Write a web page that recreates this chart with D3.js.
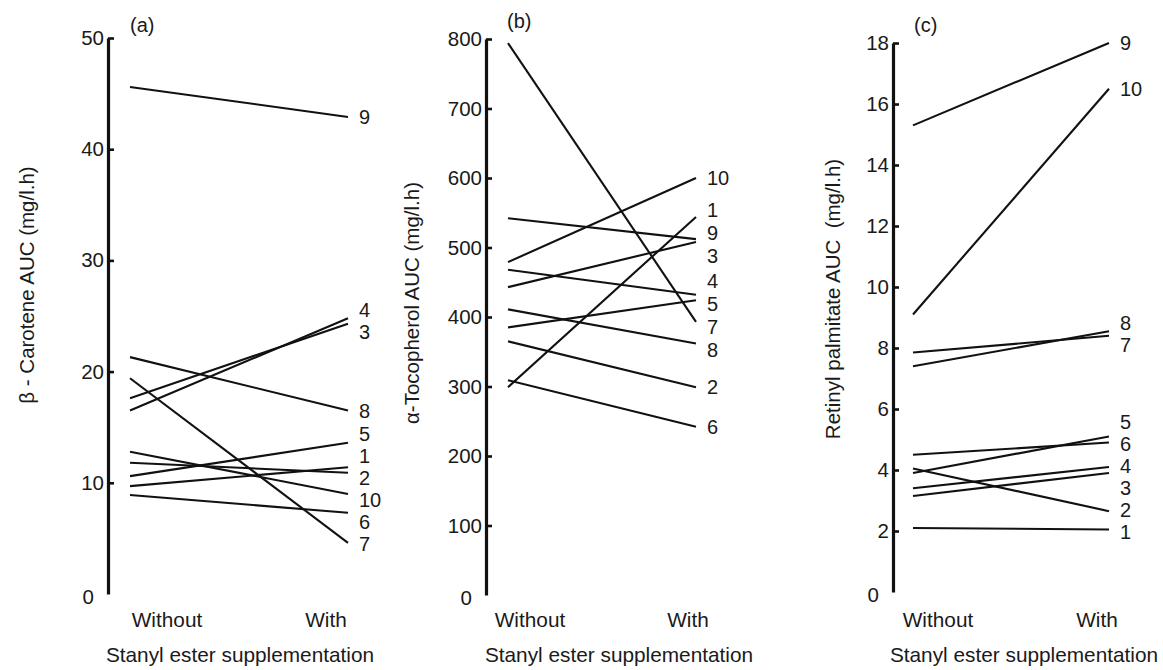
<!DOCTYPE html>
<html>
<head>
<meta charset="utf-8">
<script src="https://cdn.jsdelivr.net/npm/d3@7"></script>
<style>
body { margin: 0; background: #fff; }
text { font-family: "Liberation Sans", Arial, Helvetica, sans-serif; fill: #1a1a1a; }
</style>
</head>
<body>
<svg id="chart" width="1163" height="670"></svg>
<script>
// subjects 1..10, values
var subjects = ["1", "2", "3", "4", "5", "6", "7", "8", "9", "10"];
var conditions = ["Without", "With"];

var caroteneWithout = [9.7, 11.8, 17.6, 16.5, 10.6, 8.9, 19.4, 21.3, 45.6, 12.8];
var caroteneWith    = [11.4, 10.9, 24.3, 24.8, 13.6, 7.3, 4.6, 16.5, 42.9, 9.0];

var tocoWithout = [299, 365, 443, 468, 385, 309, 794, 411, 542, 479];
var tocoWith    = [544, 299, 508, 432, 424, 242, 393, 362, 512, 600];

var retinylWithout = [2.1, 4.05, 3.15, 3.4, 3.9, 4.5, 7.85, 7.4, 15.3, 9.1];
var retinylWith    = [2.05, 2.65, 3.9, 4.1, 5.1, 4.9, 8.4, 8.55, 18.0, 16.5];

var caroteneTicks = [0, 10, 20, 30, 40, 50];
var tocoTicks = [0, 100, 200, 300, 400, 500, 600, 700, 800];
var retinylTicks = [0, 2, 4, 6, 8, 10, 12, 14, 16, 18];

var xTitle = "Stanyl ester supplementation";

var panels = [
	{ tag: "(a)", before: caroteneWithout, after: caroteneWith, ticks: caroteneTicks,
	  title: "β - Carotene AUC (mg/l.h)",
	  axisX: 108, x0: 130, x1: 348, yTop: 38, yBottom: 594,
	  titleX: 34, titleY: 285, tagX: 130, tagY: 32,
	  catX: [167, 326], xTitleX: 240, labelGap: 22 },
	{ tag: "(b)", before: tocoWithout, after: tocoWith, ticks: tocoTicks,
	  title: "α-Tocopherol AUC (mg/l.h)",
	  axisX: 486, x0: 508, x1: 696, yTop: 39, yBottom: 595,
	  titleX: 419, titleY: 303, tagX: 507, tagY: 28,
	  catX: [530, 688], xTitleX: 619, labelGap: 23 },
	{ tag: "(c)", before: retinylWithout, after: retinylWith, ticks: retinylTicks,
	  title: "Retinyl palmitate AUC\u00a0\u00a0(mg/l.h)",
	  axisX: 893, x0: 913, x1: 1109, yTop: 43, yBottom: 592,
	  titleX: 840, titleY: 299, tagX: 914, tagY: 32,
	  catX: [938, 1097], xTitleX: 1024, labelGap: 22 }
];

var svg = d3.select("#chart");

// push overlapping end labels apart
function spread(items, gap) {
	items.sort(function(a, b) { return a.y - b.y; });
	for (var k = 0; k < 300; k++) {
		for (var i = 1; i < items.length; i++) {
			var d = items[i].y - items[i - 1].y;
			if (d < gap) {
				var s = (gap - d) / 2;
				items[i - 1].y -= s;
				items[i].y += s;
			}
		}
	}
	return items;
}

panels.forEach(function(p) {
	var g = svg.append("g");

	var y = d3.scaleLinear()
		.domain([0, d3.max(p.ticks)])
		.range([p.yBottom, p.yTop]);

	var x = d3.scalePoint()
		.domain(conditions)
		.range([p.x0, p.x1]);

	// y axis
	var ax = g.append("g")
		.attr("transform", "translate(" + p.axisX + ",0)")
		.call(d3.axisLeft(y).tickValues(p.ticks).tickSize(-6).tickSizeOuter(0).tickPadding(4));
	ax.select(".domain").attr("stroke", "#111").attr("stroke-width", 3.2);
	ax.selectAll(".tick line").attr("stroke", "#111").attr("stroke-width", 2.6);
	ax.selectAll(".tick text")
		.style("font-size", "20.5px")
		.attr("fill", "#2a2a2a")
		.style("font-family", '"Liberation Sans", Arial, sans-serif');
	ax.selectAll(".tick").filter(function(d) { return d === 0; })
		.each(function() {
			d3.select(this).select("line").remove();
			d3.select(this).select("text").attr("x", -14).attr("dy", "0.45em");
		});

	// subject lines
	subjects.forEach(function(s, i) {
		var pts = [[x("Without"), y(p.before[i])], [x("With"), y(p.after[i])]];
		g.append("path")
			.attr("d", d3.line()(pts))
			.attr("fill", "none")
			.attr("stroke", "#111")
			.attr("stroke-width", 2.1);
	});

	// subject numbers
	var labels = spread(subjects.map(function(s, i) {
		return { name: s, y: y(p.after[i]) };
	}), p.labelGap);
	g.selectAll(".num")
		.data(labels)
		.enter()
		.append("text")
		.attr("class", "num")
		.attr("x", x("With") + 11)
		.attr("y", function(d) { return d.y; })
		.attr("dy", "0.36em")
		.style("font-size", "20px")
		.text(function(d) { return d.name; });

	// category labels
	g.selectAll(".cat")
		.data(conditions)
		.enter()
		.append("text")
		.attr("class", "cat")
		.attr("x", function(d, i) { return p.catX[i]; })
		.attr("y", 627)
		.attr("text-anchor", "middle")
		.style("font-size", "20.8px")
		.text(function(d) { return d; });

	// x title
	g.append("text")
		.attr("x", p.xTitleX)
		.attr("y", 662)
		.attr("text-anchor", "middle")
		.style("font-size", "20.8px")
		.text(xTitle);

	// y title
	g.append("text")
		.attr("transform", "translate(" + p.titleX + "," + p.titleY + ")rotate(-90)")
		.attr("text-anchor", "middle")
		.style("font-size", "20.5px")
		.text(p.title);

	// panel tag
	g.append("text")
		.attr("x", p.tagX)
		.attr("y", p.tagY)
		.style("font-size", "20px")
		.text(p.tag);
});
</script>
</body>
</html>
